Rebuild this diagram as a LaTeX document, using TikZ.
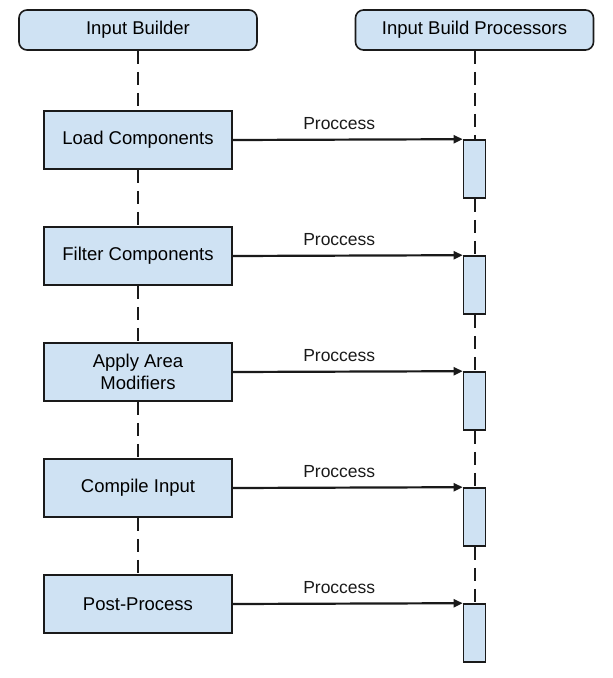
\documentclass[tikz,border=0pt]{standalone}
\usepackage{fontspec}
\setmainfont{Liberation Sans}
\usetikzlibrary{arrows.meta}
\definecolor{boxblue}{HTML}{CFE2F3}
\definecolor{linegray}{HTML}{1A1A1A}
\tikzstyle{lifehead} = [rectangle, draw=linegray, fill=boxblue, line width=1.6pt, rounded corners=8pt, text centered, minimum width=238pt, minimum height=40pt, font=\fontsize{18.5}{22}\selectfont]
\tikzstyle{stepbox} = [rectangle, draw=linegray, fill=boxblue, line width=1.6pt, text centered, align=center, minimum width=188pt, minimum height=58pt, inner sep=0pt, font=\fontsize{18.5}{22}\selectfont]
\tikzstyle{actbox} = [rectangle, draw=linegray, fill=boxblue, line width=1.6pt, minimum width=22pt, minimum height=58pt, inner sep=0pt]
\tikzstyle{lifeline} = [line width=2pt, linegray, dash pattern=on 13pt off 8pt]
\tikzstyle{message} = [line width=2.2pt, linegray, -{Triangle[length=9pt,width=8pt]}]
\tikzstyle{msglabel} = [above=9pt, inner sep=0pt, font=\fontsize{17.5}{20}\selectfont]

\begin{document}
\begin{tikzpicture}[x=1pt, y=1pt, node distance = 116pt]
            \useasboundingbox (0,0) rectangle (613,-678);
            \node (builder) [lifehead] at (138,-30) {Input Builder};
            \node (procs) [lifehead, right of = builder, xshift=220.5pt] {Input Build Processors};
            \node (load) [stepbox, below of = builder, yshift=6pt] {Load Components};
            \node (filter) [stepbox, below of = load] {Filter Components};
            \node (apply) [stepbox, below of = filter] {Apply Area\\Modifiers};
            \node (compile) [stepbox, below of = apply] {Compile Input};
            \node (post) [stepbox, below of = compile] {Post-Process};
            \node (act1) [actbox, below of = procs, yshift=-23pt] {};
            \node (act2) [actbox, below of = act1] {};
            \node (act3) [actbox, below of = act2] {};
            \node (act4) [actbox, below of = act3] {};
            \node (act5) [actbox, below of = act4] {};
            \draw [lifeline] (builder) -- (load);
            \draw [lifeline] (load) -- (filter);
            \draw [lifeline] (filter) -- (apply);
            \draw [lifeline] (apply) -- (compile);
            \draw [lifeline] (compile) -- (post);
            \draw [lifeline] (procs) -- (act1);
            \draw [lifeline] (act1) -- (act2);
            \draw [lifeline] (act2) -- (act3);
            \draw [lifeline] (act3) -- (act4);
            \draw [lifeline] (act4) -- (act5);
            \draw [message] (load.east) -- node (lbl1) [msglabel, pos=0.463] {Proccess} (act1.north west);
            \draw [message] (filter.east) -- node (lbl2) [msglabel, pos=0.463] {Proccess} (act2.north west);
            \draw [message] (apply.east) -- node (lbl3) [msglabel, pos=0.463] {Proccess} (act3.north west);
            \draw [message] (compile.east) -- node (lbl4) [msglabel, pos=0.463] {Proccess} (act4.north west);
            \draw [message] (post.east) -- node (lbl5) [msglabel, pos=0.463] {Proccess} (act5.north west);
        \end{tikzpicture}
\end{document}
